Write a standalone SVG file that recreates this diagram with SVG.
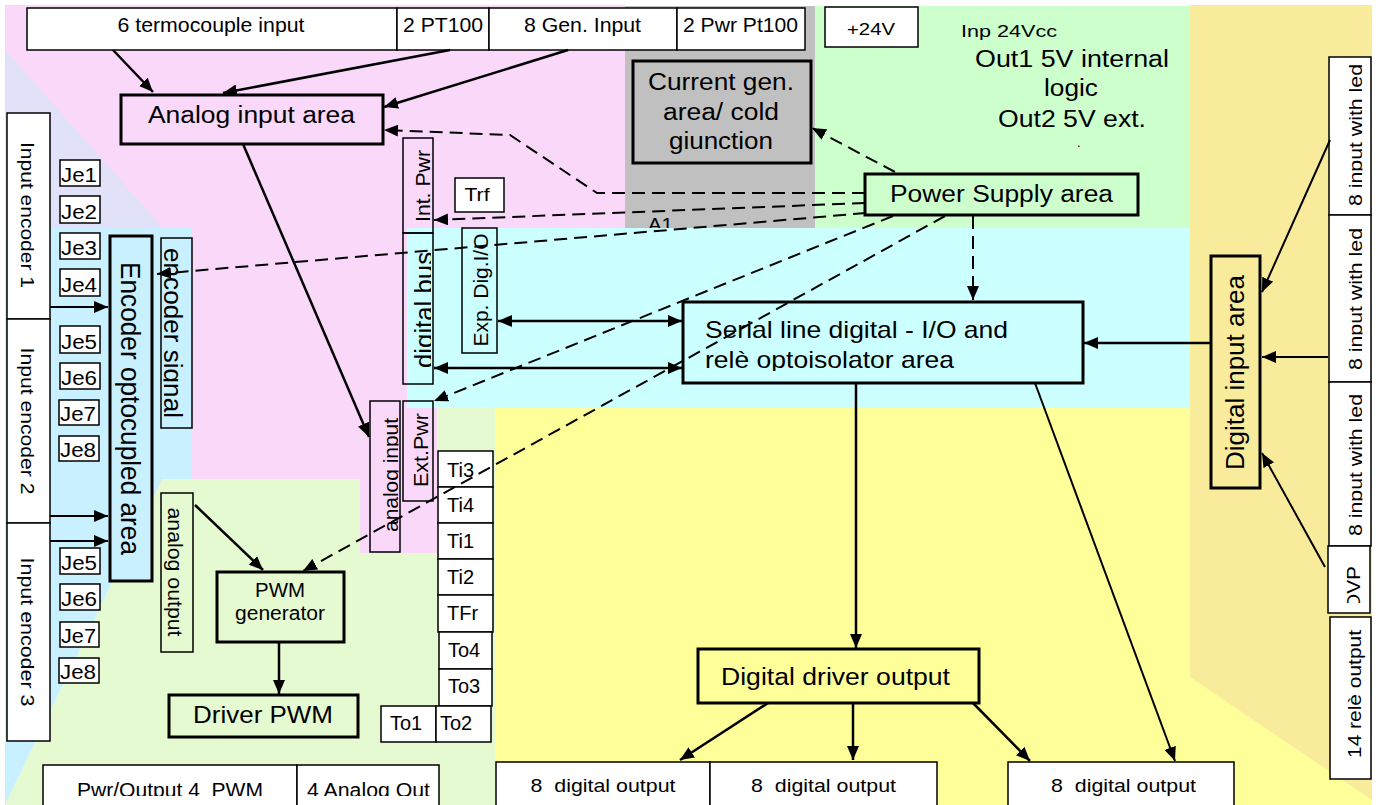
<svg xmlns="http://www.w3.org/2000/svg" width="1379" height="805" viewBox="0 0 1379 805">
<defs>
<style>
text{font-family:"Liberation Sans",Arial,Helvetica,sans-serif;fill:#000}
.w{fill:#fff;stroke:#000;stroke-width:1.5}
.n{fill:none;stroke:#000;stroke-width:1.5}
.k{stroke:#000;stroke-width:3}
.c{fill:none;stroke:#000;stroke-width:2.5}
.c2{fill:none;stroke:#000;stroke-width:2}
.d{fill:none;stroke:#000;stroke-width:2;stroke-dasharray:13 7}
</style>
<marker id="ah" markerUnits="userSpaceOnUse" markerWidth="16" markerHeight="12" refX="14" refY="6" orient="auto-start-reverse"><path d="M0,0 L14,6 L0,12 z" fill="#000"/></marker>
<clipPath id="cpBus"><rect x="403" y="233" width="28" height="151"/></clipPath>
<clipPath id="cpSig"><rect x="163.5" y="238" width="29" height="190"/></clipPath>
<clipPath id="cpAin"><rect x="370" y="401" width="28.5" height="151"/></clipPath>
<clipPath id="cpLed"><rect x="1329" y="40" width="33.5" height="520"/></clipPath>
<clipPath id="cpOvp"><rect x="1328" y="546" width="42" height="57"/></clipPath>
<clipPath id="cpSer"><rect x="683" y="302" width="400" height="69"/></clipPath>
<clipPath id="cpBot"><rect x="0" y="740" width="1379" height="56"/></clipPath>
</defs>

<g id="background">
<rect x="5" y="5" width="620" height="548" fill="#FAD8FA"/>
<polygon points="5,50 163,228 5,228" fill="#E1E1FA"/>
<rect x="5" y="228" width="187" height="252" fill="#C8F0FF"/>
<polygon points="162,479 360,479 360,553 437,553 437,408 495,408 495,805 5,805" fill="#E5FAD0"/>
<polygon points="5,479 162,479 5,805" fill="#C8F0FF"/>
<rect x="625" y="6" width="190" height="222" fill="#C0C0C0"/>
<rect x="815" y="6" width="375" height="222" fill="#CCFFCC"/>
<text x="648" y="231" font-size="18" textLength="25" lengthAdjust="spacingAndGlyphs">A1</text>
<rect x="407" y="228" width="783" height="180" fill="#CCFFFF"/>
<rect x="495" y="408" width="877" height="397" fill="#FFFF99"/>
<polygon points="1190,5 1372,5 1372,800 1190,677" fill="#F8EC9C"/>
</g>

<g id="n-termocouple"><rect class="w" x="27" y="8" width="370" height="42"/><text x="211" y="32" font-size="20" text-anchor="middle" textLength="187" lengthAdjust="spacingAndGlyphs">6 termocouple input</text></g>
<g id="n-pt100"><rect class="w" x="397" y="8" width="92" height="42"/><text x="443" y="32" font-size="20" text-anchor="middle" textLength="80" lengthAdjust="spacingAndGlyphs">2 PT100</text></g>
<g id="n-geninput"><rect class="w" x="489" y="8" width="188" height="42"/><text x="582.5" y="32" font-size="20" text-anchor="middle" textLength="117" lengthAdjust="spacingAndGlyphs">8 Gen. Input</text></g>
<g id="n-pwrpt100"><rect class="w" x="677" y="8" width="128" height="42"/><text x="740.5" y="32" font-size="20" text-anchor="middle" textLength="115" lengthAdjust="spacingAndGlyphs">2 Pwr Pt100</text></g>
<g id="n-24v"><rect class="w" x="825" y="7" width="93" height="40"/><text x="871" y="35" font-size="17" text-anchor="middle" textLength="48" lengthAdjust="spacingAndGlyphs">+24V</text></g>
<g id="n-psinfo">
<text x="961" y="37" font-size="17" textLength="96" lengthAdjust="spacingAndGlyphs">Inp 24Vcc</text>
<text x="975" y="67" font-size="23" textLength="194" lengthAdjust="spacingAndGlyphs">Out1 5V internal</text>
<text x="1044" y="96" font-size="23" textLength="54" lengthAdjust="spacingAndGlyphs">logic</text>
<text x="998" y="127" font-size="23" textLength="148" lengthAdjust="spacingAndGlyphs">Out2 5V ext.</text>
<text x="1077" y="147" font-size="13">.</text>
</g>

<g id="n-analogarea"><rect class="k" fill="#FAD8FA" x="121" y="95" width="262" height="49"/><text x="251.5" y="123" font-size="23" text-anchor="middle" textLength="207" lengthAdjust="spacingAndGlyphs">Analog input area</text></g>
<g id="n-currentgen"><rect class="k" fill="#C0C0C0" x="633" y="61" width="178" height="102"/>
<text x="721" y="90" font-size="23" text-anchor="middle" textLength="146" lengthAdjust="spacingAndGlyphs">Current gen.</text>
<text x="721" y="120" font-size="23" text-anchor="middle" textLength="116" lengthAdjust="spacingAndGlyphs">area/ cold</text>
<text x="721" y="149" font-size="23" text-anchor="middle" textLength="104" lengthAdjust="spacingAndGlyphs">giunction</text></g>
<g id="n-powersupply"><rect class="k" fill="#CCFFCC" x="865" y="174" width="273" height="41"/><text x="1001.5" y="202" font-size="23" text-anchor="middle" textLength="223" lengthAdjust="spacingAndGlyphs">Power Supply area</text></g>

<g id="n-intpwr"><rect class="n" x="403" y="138" width="30" height="95"/><text transform="translate(430,186) rotate(-90)" font-size="21" text-anchor="middle" textLength="72" lengthAdjust="spacingAndGlyphs">Int. Pwr</text></g>
<g id="n-digitalbus"><rect class="n" x="403" y="233" width="30" height="151"/><g clip-path="url(#cpBus)"><text transform="translate(433,310) rotate(-90)" font-size="25" text-anchor="middle" textLength="116" lengthAdjust="spacingAndGlyphs">digital bus</text></g></g>
<g id="n-trf"><rect class="w" x="455" y="178" width="49" height="34"/><text x="477" y="201" font-size="19" text-anchor="middle" textLength="25" lengthAdjust="spacingAndGlyphs">Trf</text></g>
<g id="n-expdig"><rect class="n" x="462" y="228" width="35" height="125"/><text transform="translate(488,290) rotate(-90)" font-size="21" text-anchor="middle" textLength="113" lengthAdjust="spacingAndGlyphs">Exp. Dig.I/O</text></g>

<g id="n-inenc1"><rect class="w" x="7" y="113" width="43" height="206"/><text transform="translate(21,215) rotate(90)" font-size="18" text-anchor="middle" textLength="146" lengthAdjust="spacingAndGlyphs">Input encoder 1</text></g>
<g id="n-inenc2"><rect class="w" x="7" y="319" width="43" height="204"/><text transform="translate(21,421) rotate(90)" font-size="18" text-anchor="middle" textLength="147" lengthAdjust="spacingAndGlyphs">Input encoder 2</text></g>
<g id="n-inenc3"><rect class="w" x="7" y="523" width="43" height="218"/><text transform="translate(21,632) rotate(90)" font-size="18" text-anchor="middle" textLength="149" lengthAdjust="spacingAndGlyphs">Input encoder 3</text></g>

<g id="n-je1a"><rect class="w" x="60" y="160" width="40" height="26"/><text x="61" y="182" font-size="20" textLength="36" lengthAdjust="spacingAndGlyphs">Je1</text></g>
<g id="n-je2a"><rect class="w" x="60" y="196" width="40" height="27"/><text x="61" y="219" font-size="20" textLength="36" lengthAdjust="spacingAndGlyphs">Je2</text></g>
<g id="n-je3a"><rect class="w" x="60" y="233" width="40" height="26"/><text x="61" y="255" font-size="20" textLength="36" lengthAdjust="spacingAndGlyphs">Je3</text></g>
<g id="n-je4a"><rect class="w" x="60" y="269" width="40" height="27"/><text x="61" y="292" font-size="20" textLength="36" lengthAdjust="spacingAndGlyphs">Je4</text></g>
<g id="n-je5a"><rect class="w" x="60" y="326" width="40" height="27"/><text x="61" y="349" font-size="20" textLength="36" lengthAdjust="spacingAndGlyphs">Je5</text></g>
<g id="n-je6a"><rect class="w" x="60" y="363" width="40" height="26"/><text x="61" y="385" font-size="20" textLength="36" lengthAdjust="spacingAndGlyphs">Je6</text></g>
<g id="n-je7a"><rect class="w" x="59" y="400" width="40" height="25"/><text x="60" y="421" font-size="20" textLength="36" lengthAdjust="spacingAndGlyphs">Je7</text></g>
<g id="n-je8a"><rect class="w" x="59" y="436" width="40" height="25"/><text x="60" y="457" font-size="20" textLength="36" lengthAdjust="spacingAndGlyphs">Je8</text></g>
<g id="n-je5b"><rect class="w" x="60" y="548" width="40" height="26"/><text x="61" y="570" font-size="20" textLength="36" lengthAdjust="spacingAndGlyphs">Je5</text></g>
<g id="n-je6b"><rect class="w" x="60" y="584" width="40" height="26"/><text x="61" y="606" font-size="20" textLength="36" lengthAdjust="spacingAndGlyphs">Je6</text></g>
<g id="n-je7b"><rect class="w" x="60" y="622" width="39" height="25"/><text x="61" y="643" font-size="20" textLength="35" lengthAdjust="spacingAndGlyphs">Je7</text></g>
<g id="n-je8b"><rect class="w" x="59" y="658" width="40" height="25"/><text x="60" y="679" font-size="20" textLength="36" lengthAdjust="spacingAndGlyphs">Je8</text></g>

<g id="n-encopto"><rect class="k" fill="#C8F0FF" x="110" y="236" width="42" height="345"/><text transform="translate(121,408.5) rotate(90)" font-size="27" text-anchor="middle" textLength="293" lengthAdjust="spacingAndGlyphs">Encoder optocupled area</text></g>
<g id="n-encsignal"><rect class="n" x="161" y="238" width="31" height="190"/><g clip-path="url(#cpSig)"><text transform="translate(164,333) rotate(90)" font-size="25" text-anchor="middle" textLength="170" lengthAdjust="spacingAndGlyphs">encoder signal</text></g></g>
<g id="n-analogout"><rect class="n" x="161" y="493" width="32" height="159"/><text transform="translate(168,572) rotate(90)" font-size="20" text-anchor="middle" textLength="129" lengthAdjust="spacingAndGlyphs">analog output</text></g>
<g id="n-pwmgen"><rect class="k" fill="#E5FAD0" x="217" y="572" width="127" height="70"/>
<text x="280" y="597" font-size="20" text-anchor="middle" textLength="50" lengthAdjust="spacingAndGlyphs">PWM</text>
<text x="280" y="620" font-size="20" text-anchor="middle" textLength="90" lengthAdjust="spacingAndGlyphs">generator</text></g>
<g id="n-driverpwm"><rect class="k" fill="#E5FAD0" x="169" y="695" width="189" height="42"/><text x="263" y="723" font-size="24" text-anchor="middle" textLength="140" lengthAdjust="spacingAndGlyphs">Driver PWM</text></g>
<g id="n-pwrout"><rect class="w" x="43" y="765" width="254" height="44"/><g clip-path="url(#cpBot)"><text x="170" y="797" font-size="20" text-anchor="middle" textLength="186" lengthAdjust="spacingAndGlyphs" xml:space="preserve">Pwr/Output 4  PWM</text></g></g>
<g id="n-analogout4"><rect class="w" x="297" y="765" width="142" height="44"/><g clip-path="url(#cpBot)"><text x="368.5" y="797" font-size="20" text-anchor="middle" textLength="123" lengthAdjust="spacingAndGlyphs">4 Analog Out</text></g></g>

<g id="n-analoginput"><rect class="n" x="370" y="401" width="30" height="151"/><g clip-path="url(#cpAin)"><text transform="translate(398,475) rotate(-90)" font-size="21" text-anchor="middle" textLength="114" lengthAdjust="spacingAndGlyphs">analog input</text></g></g>
<g id="n-extpwr"><rect class="n" x="403" y="401" width="30" height="100"/><text transform="translate(428,450) rotate(-90)" font-size="21" text-anchor="middle" textLength="74" lengthAdjust="spacingAndGlyphs">Ext.Pwr</text></g>

<g id="n-ti3"><rect class="w" x="438" y="451" width="55" height="36"/><text x="447" y="477" font-size="20">Ti3</text></g>
<g id="n-ti4"><rect class="w" x="438" y="487" width="55" height="36"/><text x="447" y="512" font-size="20">Ti4</text></g>
<g id="n-ti1"><rect class="w" x="438" y="523" width="55" height="36"/><text x="447" y="548" font-size="20">Ti1</text></g>
<g id="n-ti2"><rect class="w" x="438" y="559" width="55" height="36"/><text x="447" y="584" font-size="20">Ti2</text></g>
<g id="n-tfr"><rect class="w" x="438" y="595" width="55" height="37"/><text x="447" y="620" font-size="20">TFr</text></g>
<g id="n-to4"><rect class="w" x="439" y="632" width="53" height="37"/><text x="448" y="657" font-size="20">To4</text></g>
<g id="n-to3"><rect class="w" x="439" y="669" width="53" height="37"/><text x="448" y="693" font-size="20">To3</text></g>
<g id="n-to1"><rect class="w" x="381" y="706" width="55" height="36"/><text x="390" y="730" font-size="20">To1</text></g>
<g id="n-to2"><rect class="w" x="436" y="706" width="55" height="36"/><text x="440" y="730" font-size="20">To2</text></g>

<g id="n-serial"><rect class="k" fill="#CCFFFF" x="683" y="302" width="400" height="81"/><g clip-path="url(#cpSer)">
<text x="705" y="338" font-size="24" textLength="303" lengthAdjust="spacingAndGlyphs">Serial line digital - I/O and</text>
<text x="705" y="368" font-size="24" textLength="249" lengthAdjust="spacingAndGlyphs">relè optoisolator area</text></g></g>
<g id="n-digin"><rect class="k" fill="#F8EC9C" x="1211" y="256" width="49" height="232"/><text transform="translate(1244,372.5) rotate(-90)" font-size="26" text-anchor="middle" textLength="195" lengthAdjust="spacingAndGlyphs">Digital input area</text></g>
<g id="n-in8a"><rect class="w" x="1329" y="57" width="42" height="158"/><g clip-path="url(#cpLed)"><text transform="translate(1362,135) rotate(-90)" font-size="18" text-anchor="middle" textLength="142" lengthAdjust="spacingAndGlyphs">8 input with led</text></g></g>
<g id="n-in8b"><rect class="w" x="1329" y="215" width="42" height="167"/><g clip-path="url(#cpLed)"><text transform="translate(1362,299) rotate(-90)" font-size="18" text-anchor="middle" textLength="142" lengthAdjust="spacingAndGlyphs">8 input with led</text></g></g>
<g id="n-in8c"><rect class="w" x="1329" y="382" width="42" height="164"/><g clip-path="url(#cpLed)"><text transform="translate(1362,465) rotate(-90)" font-size="18" text-anchor="middle" textLength="142" lengthAdjust="spacingAndGlyphs">8 input with led</text></g></g>
<g id="n-ovp"><rect class="w" x="1328" y="546" width="42" height="67"/><g clip-path="url(#cpOvp)"><text transform="translate(1360,588) rotate(-90)" font-size="19" text-anchor="middle" textLength="44" lengthAdjust="spacingAndGlyphs">OVP</text></g></g>
<g id="n-relay"><rect class="w" x="1330" y="617" width="41" height="162"/><text transform="translate(1361,694) rotate(-90)" font-size="19" text-anchor="middle" textLength="128" lengthAdjust="spacingAndGlyphs">14 relè output</text></g>

<g id="n-ddout"><rect class="k" fill="#FFFF99" x="698" y="649" width="281" height="54"/><text x="721" y="685" font-size="23" textLength="229" lengthAdjust="spacingAndGlyphs">Digital driver output</text></g>
<g id="n-do1"><rect class="w" x="496" y="762" width="214" height="47"/><g clip-path="url(#cpBot)"><text x="603" y="792" font-size="19" text-anchor="middle" textLength="145" lengthAdjust="spacingAndGlyphs" xml:space="preserve">8  digital output</text></g></g>
<g id="n-do2"><rect class="w" x="710" y="762" width="227" height="47"/><g clip-path="url(#cpBot)"><text x="823.5" y="792" font-size="19" text-anchor="middle" textLength="145" lengthAdjust="spacingAndGlyphs" xml:space="preserve">8  digital output</text></g></g>
<g id="n-do3"><rect class="w" x="1008" y="762" width="226" height="47"/><g clip-path="url(#cpBot)"><text x="1123.5" y="792" font-size="19" text-anchor="middle" textLength="145" lengthAdjust="spacingAndGlyphs" xml:space="preserve">8  digital output</text></g></g>

<g id="connectors">
<path class="c" marker-end="url(#ah)" d="M113,50 L153,92"/>
<path class="c" marker-end="url(#ah)" d="M450,50 L223,93"/>
<path class="c" marker-end="url(#ah)" d="M568,50 L384,107"/>
<path class="d" marker-end="url(#ah)" d="M865,193 L597,193 L510,135 L384,130"/>
<path class="d" marker-end="url(#ah)" d="M865,203 L434,220"/>
<path class="d" marker-end="url(#ah)" d="M866,213 L157,274"/>
<path class="d" marker-end="url(#ah)" d="M893,216 L434,401"/>
<path class="d" marker-end="url(#ah)" d="M945,216 L303,571"/>
<path class="d" marker-end="url(#ah)" d="M973,216 L973,300"/>
<path class="d" marker-end="url(#ah)" d="M895,172 L812,128"/>
<path class="c" marker-end="url(#ah)" d="M243,144 L369,437"/>
<path class="c" marker-start="url(#ah)" marker-end="url(#ah)" d="M498,321 L682,321"/>
<path class="c" marker-start="url(#ah)" marker-end="url(#ah)" d="M434,368 L682,368"/>
<path class="c" marker-end="url(#ah)" d="M1210,343 L1084,343"/>
<path class="c2" marker-end="url(#ah)" d="M1330,140 L1262,292"/>
<path class="c2" marker-end="url(#ah)" d="M1328,357 L1262,357"/>
<path class="c2" marker-end="url(#ah)" d="M1325,567 L1262,453"/>
<path class="c2" marker-end="url(#ah)" d="M50,307 L108,307"/>
<path class="c2" marker-end="url(#ah)" d="M50,516 L108,516"/>
<path class="c2" marker-end="url(#ah)" d="M50,541 L108,541"/>
<path class="c" marker-end="url(#ah)" d="M195,505 L263,570"/>
<path class="c" marker-end="url(#ah)" d="M279,642 L279,694"/>
<path class="c" marker-end="url(#ah)" d="M856,383 L856,648"/>
<path class="c" marker-end="url(#ah)" d="M768,703 L680,760"/>
<path class="c" marker-end="url(#ah)" d="M853,703 L853,760"/>
<path class="c" marker-end="url(#ah)" d="M973,703 L1030,761"/>
<path class="c2" marker-end="url(#ah)" d="M1035,383 L1175,761"/>
</g>
</svg>
